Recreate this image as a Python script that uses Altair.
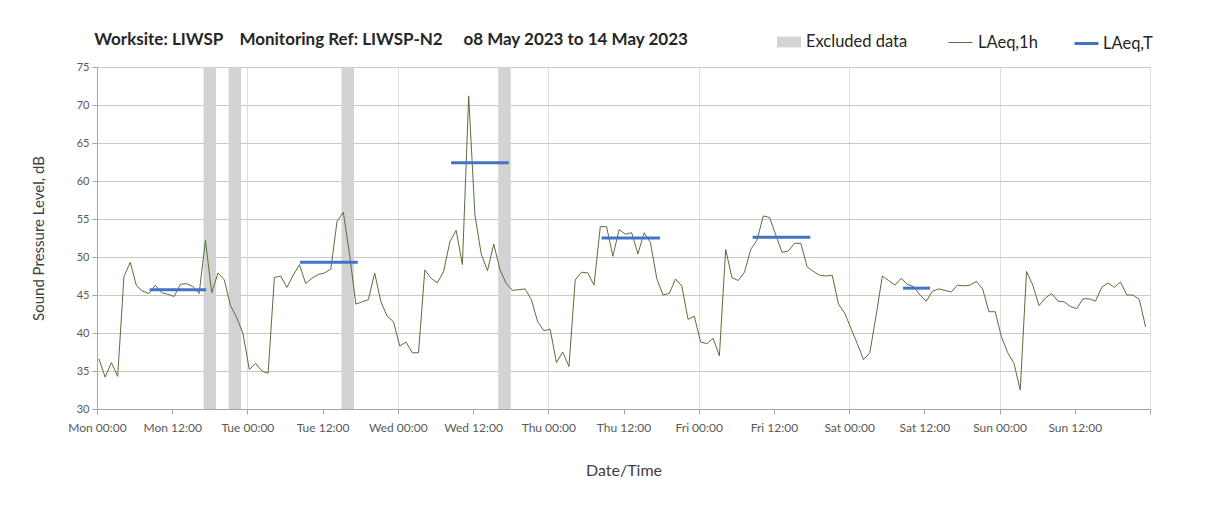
import altair as alt
import pandas as pd

# ---- data ----
# hourly LAeq,1h values, Mon 00:00 .. Sun 23:00 (168 hours)
laeq_1h = [36.6, 34.2, 36.1, 34.3, 47.4, 49.3, 46.2, 45.5, 45.2, 46.3,
           45.3, 45.1, 44.8, 46.4, 46.5, 46.1, 45.2, 52.2, 45.3, 47.9,
           47.0, 43.6, 42.0, 39.9, 35.2, 36.0, 35.0, 34.7, 47.3, 47.5,
           46.0, 47.6, 49.0, 46.5, 47.2, 47.7, 47.9, 48.4, 54.7, 55.9,
           50.3, 43.8, 44.1, 44.4, 47.9, 44.1, 42.2, 41.5, 38.3, 38.8,
           37.4, 37.4, 48.3, 47.2, 46.6, 48.1, 52.0, 53.5, 49.0, 71.2,
           55.5, 50.4, 48.2, 51.7, 48.3, 46.5, 45.6, 45.7, 45.8, 44.4,
           41.5, 40.3, 40.5, 36.1, 37.5, 35.6, 47.0, 48.0, 47.9, 46.3,
           54.0, 54.0, 50.1, 53.6, 53.0, 53.2, 50.4, 53.2, 51.9, 47.2,
           45.0, 45.2, 47.1, 46.2, 41.8, 42.2, 38.8, 38.6, 39.3, 37.0,
           51.0, 47.3, 46.9, 48.0, 51.0, 52.2, 55.4, 55.2, 52.9, 50.6,
           50.8, 51.8, 51.8, 48.7, 48.1, 47.6, 47.5, 47.6, 43.8, 42.6,
           40.6, 38.6, 36.5, 37.4, 42.3, 47.5, 46.9, 46.3, 47.2, 46.4,
           46.1, 45.0, 44.2, 45.5, 45.8, 45.6, 45.4, 46.3, 46.2, 46.3,
           46.8, 45.8, 42.8, 42.8, 39.5, 37.4, 36.0, 32.5, 48.1, 46.3,
           43.6, 44.6, 45.2, 44.2, 44.1, 43.5, 43.2, 44.5, 44.5, 44.2,
           46.0, 46.6, 46.0, 46.7, 45.0, 45.0, 44.4, 40.8]
first_hour = 0.3  # position of the first hourly point (hours after Mon 00:00)

# LAeq,T period lines (hours after Mon 00:00)
t_start = [8.4, 32.4, 56.5, 80.5, 104.6, 128.6]
t_end = [17.4, 41.6, 65.7, 89.8, 113.8, 132.9]
t_level = [45.7, 49.3, 62.4, 52.5, 52.6, 45.9]

# excluded data periods (hours after Mon 00:00)
ex_start = [17, 21, 39, 64]
ex_end = [19, 23, 41, 66]

day_names = ["Mon", "Tue", "Wed", "Thu", "Fri", "Sat", "Sun"]
tick_hours = list(range(0, 169, 12))

title_text = ("Worksite: LIWSP\u00a0\u00a0\u00a0\u00a0Monitoring Ref: LIWSP-N2"
              "\u00a0\u00a0\u00a0\u00a0\u00a0o8 May 2023 to 14 May 2023")

# ---- tables ----
df_1h = pd.DataFrame({
    "hour": [first_hour + i for i in range(len(laeq_1h))],
    "level": laeq_1h,
    "s1": "LAeq,1h",
})
df_t = pd.DataFrame({"start": t_start, "end": t_end, "level": t_level, "s2": "LAeq,T"})
df_ex = pd.DataFrame({"start": ex_start, "end": ex_end, "s0": "Excluded data"})

FONT = "Lato"
GREEN = "#56713a"
BLUE = "#4472c4"
BAND = "#d3d3d3"
LEG_Y = -37
LEG_FS = 16.5

days_js = "[" + ",".join("'%s'" % d for d in day_names) + "]"
x_scale = alt.Scale(domain=[0, 168], nice=False, zero=False)
y_scale = alt.Scale(domain=[30, 75], nice=False, zero=False)

x_axis = alt.Axis(
    values=tick_hours,
    labelExpr="datum.value >= 168 ? '' : " + days_js +
              "[floor(datum.value / 24)] + (datum.value % 24 == 0 ? ' 00:00' : ' 12:00')",
    title="Date/Time",
    grid=True,
    gridColor="#dedede",
    gridOpacity={"condition": {"test": "datum.value % 24 === 0", "value": 1}, "value": 0},
    labelOverlap=False, labelFlush=False, labelBound=False,
    labelFont=FONT, labelFontSize=12, labelColor="#595959", labelPadding=8,
    tickSize=5, tickColor="#a6a6a6", domainColor="#a6a6a6",
    titleFont=FONT, titleFontSize=16, titleFontWeight="normal", titleColor="#404040",
    titlePadding=29,
)
y_axis = alt.Axis(
    values=list(range(30, 76, 5)),
    title="Sound Pressure Level, dB",
    grid=True, gridColor="#c8c8c8",
    labelFont=FONT, labelFontSize=11, labelColor="#595959", labelPadding=3,
    tickSize=5, tickColor="#a6a6a6", domainColor="#a6a6a6",
    titleFont=FONT, titleFontSize=15, titleFontWeight="normal", titleColor="#404040",
    titlePadding=30,
)

bands = alt.Chart(df_ex).mark_rect().encode(
    x=alt.X("start:Q", scale=x_scale, axis=x_axis),
    x2="end:Q",
    fill=alt.Fill("s0:N", scale=alt.Scale(domain=["Excluded data"], range=[BAND]),
                  legend=alt.Legend(orient="none", legendX=680, legendY=LEG_Y, title=None,
                                    symbolType="M-1,-0.45H1V0.45H-1Z", symbolSize=576,
                                    symbolStrokeWidth=0, labelFont=FONT, labelFontSize=LEG_FS,
                                    labelColor="#262626", labelOffset=5, padding=0)),
)

line = alt.Chart(df_1h).mark_line(strokeWidth=1).encode(
    x=alt.X("hour:Q", scale=x_scale, axis=x_axis),
    y=alt.Y("level:Q", scale=y_scale, axis=y_axis),
    stroke=alt.Stroke("s1:N", scale=alt.Scale(domain=["LAeq,1h"], range=[GREEN]),
                      legend=alt.Legend(orient="none", legendX=851, legendY=LEG_Y, title=None,
                                        symbolType="stroke", symbolSize=576,
                                        symbolStrokeWidth=1, labelFont=FONT, labelFontSize=LEG_FS,
                                        labelColor="#262626", labelOffset=5, padding=0)),
)

periods = alt.Chart(df_t).mark_rule(strokeWidth=3).encode(
    x=alt.X("start:Q", scale=x_scale, axis=x_axis),
    x2="end:Q",
    y=alt.Y("level:Q", scale=y_scale, axis=y_axis),
    stroke=alt.Stroke("s2:N", scale=alt.Scale(domain=["LAeq,T"], range=[BLUE]),
                      legend=alt.Legend(orient="none", legendX=976, legendY=LEG_Y, title=None,
                                        symbolType="stroke", symbolSize=576,
                                        symbolStrokeWidth=3, labelFont=FONT, labelFontSize=LEG_FS,
                                        labelColor="#262626", labelOffset=3, padding=0)),
)

chart = alt.layer(bands, line, periods).resolve_scale(
    stroke="independent", fill="independent"
).properties(
    width=1053,
    height=342,
    padding={"left": 89, "top": 59, "right": 40, "bottom": 80},
    autosize=alt.AutoSizeParams(type="none"),
    title=alt.TitleParams(title_text, anchor="start", font=FONT, fontSize=17,
                          fontWeight="bold", color="#262626", offset=-19, dx=63),
).configure_view(stroke="#c8c8c8")

chart.save("out.html", embed_options={"renderer": "svg", "actions": False})
